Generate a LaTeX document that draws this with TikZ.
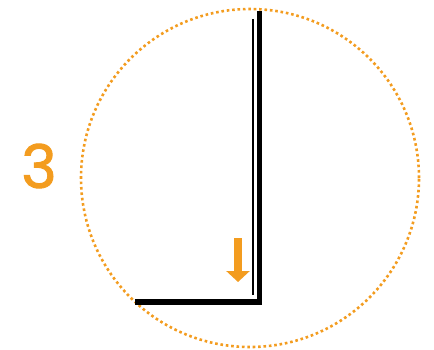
\documentclass[tikz,border=0pt]{standalone}
\usepackage{fontspec}
\setmainfont{Poppins}
\newfontfamily\numfont{Poppins}[FakeBold=1.6]
\usetikzlibrary{arrows.meta}
\definecolor{ringorange}{HTML}{F39C1F}
\begin{document}
\begin{tikzpicture}[
    x=1pt, y=-1pt,
    ring/.style={
        draw=ringorange, circle, line width=2.6pt,
        dash pattern=on 2.6pt off 2.8pt,
        minimum size=338pt, inner sep=0pt
    },
    num/.style={text=ringorange, font=\numfont\fontsize{60}{60}\selectfont, inner sep=0pt},
    wall/.style={line width=5.5pt},
    edge/.style={line width=1.8pt},
    push/.style={ringorange, line width=8.5pt,
        -{Triangle[width=23pt,length=11pt]}}
]
\useasboundingbox (0,0) rectangle (434,349);

% ----------------------------------------------------------
% Kreis und Ziffer
% ----------------------------------------------------------
\node[ring] (ring) at (250,178) {};
\node[num] (num) at (39,166) {3};

% ----------------------------------------------------------
% Winkel: dicke Kante aussen, duenne Kante innen
% ----------------------------------------------------------
\draw[wall] (259.5,11) -- (259.5,302) -- (135,302);
\draw[edge] (253,19) -- (253,294.5);

% ----------------------------------------------------------
% Pfeil nach unten
% ----------------------------------------------------------
\draw[push] (238,238) -- (238,282);

\end{tikzpicture}
\end{document}
